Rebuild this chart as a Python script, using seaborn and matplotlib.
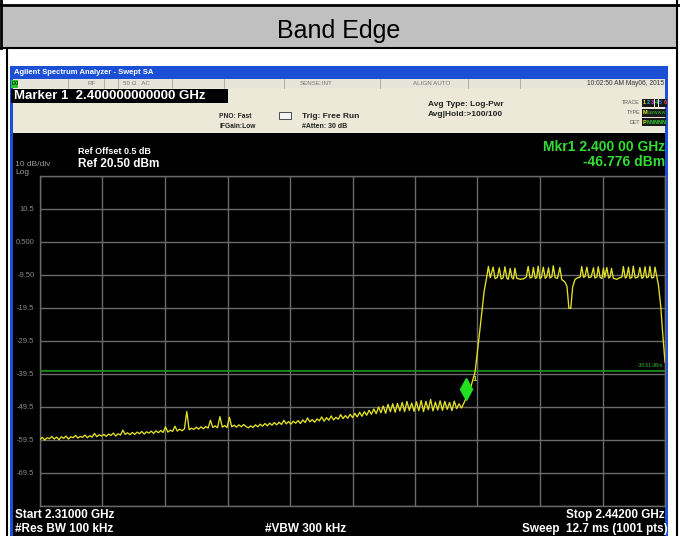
import matplotlib
matplotlib.use("Agg")
import matplotlib.pyplot as plt
import matplotlib.transforms as mtransforms
from matplotlib.patches import Rectangle
from matplotlib.colors import LinearSegmentedColormap
import numpy as np
import pandas as pd
import seaborn as sns

plt.rcParams['font.family'] = ['Liberation Sans', 'DejaVu Sans']

# analyzer settings
start_ghz, stop_ghz = 2.310, 2.442
ref_dbm, db_per_div = 20.5, 10
display_line_dbm = -38.61
mkr_ghz, mkr_dbm = 2.400, -46.776

# noise floor, one reading every 0.5 MHz from 2.310 to 2.400 GHz
noise_dbm = [
    -59.4, -58.8, -59.6, -58.9, -59.2, -58.5, -59.3, -58.7, -59.5, -58.6,
    -59.1, -58.4, -59.3, -58.6, -58.9, -58.2, -59.0, -58.5, -58.8, -58.1,
    -58.9, -58.3, -58.7, -57.6, -58.6, -58.0, -58.4, -57.9, -58.5, -57.8,
    -58.2, -57.5, -58.4, -57.7, -58.1, -56.6, -57.9, -57.4, -58.0, -57.3,
    -57.9, -57.2, -57.7, -57.0, -57.8, -57.1, -57.5, -56.9, -57.6, -56.8,
    -57.4, -56.7, -57.3, -55.6, -57.2, -56.6, -57.0, -55.4, -56.9, -56.3,
    -56.8, -56.2, -51.0, -56.5, -56.0, -56.4, -55.7, -56.3, -55.6, -56.2,
    -55.5, -56.0, -53.6, -55.8, -55.3, -55.9, -52.5, -55.7, -55.2, -55.8,
    -52.7, -55.6, -55.1, -55.7, -55.0, -55.6, -54.9, -55.5, -55.9, -55.3,
    -55.8, -55.0, -55.6, -54.8, -55.4, -54.6, -55.3, -54.5, -55.1, -54.3,
    -55.0, -54.2, -54.9, -53.6, -54.7, -54.0, -54.8, -53.9, -54.5, -53.7,
    -54.6, -53.5, -54.3, -52.9, -54.1, -53.4, -54.2, -53.2, -53.8, -52.6,
    -53.9, -52.8, -53.6, -52.3, -53.5, -52.7, -53.3, -51.9, -53.1, -52.2,
    -53.0, -51.8, -52.8, -51.5, -52.6, -51.2, -52.4, -51.0, -52.1, -50.6,
    -51.8, -50.2, -51.6, -49.6, -51.3, -49.3, -51.5, -48.8, -51.0, -48.6,
    -51.2, -48.5, -50.8, -48.2, -51.0, -47.9, -50.6, -48.4, -50.9, -48.0,
    -50.7, -47.6, -51.0, -47.9, -50.4, -47.3, -50.8, -48.1, -50.5, -47.7,
    -50.6, -47.9, -50.3, -48.2, -50.7, -47.8, -50.1, -48.6, -49.9, -48.5,
    -46.8,
]

# rising edge of the channel
edge_ghz = [2.4010, 2.4019, 2.4030, 2.4038]
edge_dbm = [-43.5, -38.8, -25.0, -14.5]

# channel plateau (with pilot spikes and centre notch) and falling edge
band_ghz = [
    2.4043, 2.4047, 2.4051, 2.4057, 2.4061, 2.4066, 2.4070, 2.4074, 2.4078, 2.4082,
    2.4086, 2.4089, 2.4093, 2.4097, 2.4100, 2.4103, 2.4107, 2.4115, 2.4122, 2.4127,
    2.4131, 2.4135, 2.4139, 2.4142, 2.4146, 2.4149, 2.4152, 2.4156, 2.4159, 2.4163,
    2.4167, 2.4170, 2.4174, 2.4177, 2.4181, 2.4184, 2.4188, 2.4193, 2.4198, 2.4202,
    2.4208, 2.4213, 2.4217, 2.4221, 2.4225, 2.4230, 2.4236, 2.4241, 2.4244, 2.4248,
    2.4251, 2.4255, 2.4259, 2.4264, 2.4269, 2.4272, 2.4276, 2.4279, 2.4283, 2.4287,
    2.4290, 2.4293, 2.4297, 2.4301, 2.4304, 2.4307, 2.4311, 2.4318, 2.4325, 2.4329,
    2.4332, 2.4336, 2.4339, 2.4343, 2.4346, 2.4350, 2.4353, 2.4357, 2.4363, 2.4367,
    2.4371, 2.4374, 2.4378, 2.4381, 2.4385, 2.4388, 2.4392, 2.4396, 2.4399, 2.4403,
    2.4406, 2.4411, 2.4415, 2.4420,
]
band_dbm = [
    -10.6, -7.0, -10.4, -7.2, -10.7, -10.3, -7.4, -10.8, -10.5, -7.1,
    -10.6, -10.9, -7.6, -10.5, -10.8, -7.5, -10.6, -10.9, -10.7, -10.2,
    -7.0, -10.5, -10.3, -7.3, -10.6, -10.4, -6.9, -10.7, -10.3, -7.2,
    -10.6, -10.2, -7.4, -10.5, -10.1, -6.8, -10.4, -10.6, -7.3, -11.0,
    -11.6, -13.0, -19.7, -19.7, -13.2, -10.9, -10.4, -10.2, -7.0, -10.3,
    -10.1, -7.2, -10.4, -10.2, -7.4, -10.5, -10.2, -7.1, -10.4, -10.6,
    -7.5, -10.3, -7.3, -10.5, -10.2, -7.6, -10.6, -10.9, -10.4, -10.2,
    -7.0, -10.5, -10.2, -7.2, -10.6, -10.3, -6.9, -10.5, -10.2, -7.3,
    -10.6, -10.3, -7.1, -10.4, -10.2, -7.0, -10.5, -10.3, -7.2, -10.4,
    -12.5, -19.0, -27.0, -36.0,
]

y_labels = ['', '-69.5', '-59.5', '-49.5', '-39.5', '-29.5', '-19.5', '-9.50', '0.500', '10.5', '']

noise_ghz = np.linspace(start_ghz, mkr_ghz, len(noise_dbm))
trace = pd.DataFrame({
    'ghz': np.concatenate([noise_ghz, edge_ghz, band_ghz]),
    'dbm': np.concatenate([noise_dbm, edge_dbm, band_dbm]),
})

W, H = 680, 536
fig = plt.figure(figsize=(W / 100, H / 100), dpi=100)

# background layer in pixel coordinates: table cell + analyzer window
bg = fig.add_axes([0, 0, 1, 1])
bg.set_xlim(0, W)
bg.set_ylim(H, 0)
bg.axis('off')


def box(x0, y0, x1, y1, color):
    bg.add_patch(Rectangle((x0, y0), x1 - x0, y1 - y0, facecolor=color, edgecolor='none'))


def txt(x, y, s, size, color='black', ha='left', weight='normal', **kw):
    bg.text(x, y, s, fontsize=size, color=color, ha=ha, va='center', fontweight=weight, **kw)


# table header
box(1, 5, 677, 48, '#c0c0c0')
bg.plot([0, 680], [5, 5], color='black', lw=2)
bg.plot([0, 677], [48, 48], color='black', lw=1.5)
bg.plot([1, 1], [0, 48], color='black', lw=2)
bg.plot([6.5, 6.5], [48, 536], color='black', lw=1.5)
bg.plot([676.5, 676.5], [0, 536], color='black', lw=1.5)
txt(339, 31, 'Band Edge', 18, ha='center')

# analyzer window
box(10, 66, 668, 536, '#1a4fd6')
blue = LinearSegmentedColormap.from_list('xp', ['#4a86ee', '#1d5be0', '#0d46cf'])
bg.imshow(np.linspace(0, 1, 16).reshape(-1, 1), cmap=blue, extent=(10, 668, 79, 66), aspect='auto')
txt(14, 72.5, 'Agilent Spectrum Analyzer - Swept SA', 5.5, 'white', weight='bold')

box(13, 79, 665, 88, '#e6e3d8')
box(11, 79.5, 18, 87.5, '#2cc22c')
txt(12, 83.5, 'LXI', 3.5, 'black')
for sx in [68, 104, 118, 172, 224, 284, 380, 468, 520]:
    bg.plot([sx, sx], [79, 88], color='#a8a8a0', lw=0.6)
txt(87, 83.5, 'RF', 4.5, '#777777')
txt(123, 83.5, '50 \u03a9   AC', 4.5, '#777777')
txt(300, 83.5, 'SENSE:INT', 4.5, '#777777')
txt(413, 83.5, 'ALIGN AUTO', 4.5, '#777777')
txt(664, 83.5, '10:02:50 AM May06, 2015', 4.8, '#333333', ha='right')

box(13, 88, 665, 133, '#ece9d8')
box(11, 89, 228, 103, 'black')
txt(14, 96, 'Marker 1  2.400000000000 GHz', 9.5, 'white', weight='bold')
txt(219, 116, 'PNO: Fast', 4.8, '#222222', weight='bold')
txt(219, 126, 'IFGain:Low', 4.8, '#222222', weight='bold')
bg.add_patch(Rectangle((279, 112), 12, 7, facecolor='#f4f4f4', edgecolor='#333333', lw=0.6))
txt(302, 116, 'Trig: Free Run', 6, '#222222', weight='bold')
txt(302, 126, '#Atten: 30 dB', 5, '#222222', weight='bold')
txt(428, 105, 'Avg Type: Log-Pwr', 6, '#222222', weight='bold')
txt(428, 115, 'Avg|Hold:>100/100', 6, '#222222', weight='bold')
txt(640, 103, 'TRACE', 3.8, '#555555', ha='right')
txt(640, 113, 'TYPE', 3.8, '#555555', ha='right')
txt(640, 122, 'DET', 3.8, '#555555', ha='right')
for i, c in enumerate(['#e8e820', '#25c0e0', '#e040e0', '#30d030', '#3060ff', '#ff4040']):
    box(642 + i * 4.2, 99, 645.8 + i * 4.2, 107, '#1a1a1a')
    txt(642.4 + i * 4.2, 103, str(i + 1), 4, c, weight='bold')
box(642, 109, 666, 117, '#1a1a1a')
txt(642.5, 113, 'M', 4, '#e8e820', weight='bold')
txt(647, 113, 'WWWWW', 3, '#30d030')
box(642, 118, 666, 126, '#1a1a1a')
txt(642.5, 122, 'P', 4, '#e8e820', weight='bold')
txt(647, 122, 'NNNNN', 4, '#30d030', weight='bold')

# screen
box(13, 133, 665, 536, 'black')
txt(78, 152, 'Ref Offset 0.5 dB', 6.5, 'white', weight='bold')
txt(78, 164, 'Ref 20.50 dBm', 8.5, 'white', weight='bold')
txt(15, 164, '10 dB/div', 6, '#9a9a9a')
txt(15, 172, 'Log', 6, '#9a9a9a')
txt(665, 147, 'Mkr1 2.400 00 GHz', 10, '#33dd33', ha='right', weight='bold')
txt(665, 162, '-46.776 dBm', 10, '#33dd33', ha='right', weight='bold')
txt(15, 515, 'Start 2.31000 GHz', 8.5, 'white', weight='bold')
txt(15, 529, '#Res BW 100 kHz', 8.5, 'white', weight='bold')
txt(265, 529, '#VBW 300 kHz', 8.5, 'white', weight='bold')
txt(665, 515, 'Stop 2.44200 GHz', 8.5, 'white', ha='right', weight='bold')
txt(668, 529, 'Sweep  12.7 ms (1001 pts)', 8.5, 'white', ha='right', weight='bold')

# graticule + trace
ax = fig.add_axes([40 / W, (H - 505.7) / H, 625 / W, 330 / H])
ax.set_facecolor('none')
ax.set_xlim(start_ghz, stop_ghz)
ax.set_ylim(ref_dbm - 10 * db_per_div, ref_dbm)
ax.set_xticks(np.linspace(start_ghz, stop_ghz, 11))
ax.set_xticklabels([])
ax.set_yticks(ref_dbm - db_per_div * np.arange(10, -1, -1))
ax.set_yticklabels(y_labels)
ax.tick_params(length=0, labelsize=5.5, labelcolor='#8a8a8a', pad=4)
ax.grid(True, color='#6a6a6a', lw=1.0)
for sp in ax.spines.values():
    sp.set_color('#6a6a6a')
    sp.set_linewidth(1.0)

ax.axhline(display_line_dbm, color='#1f9a1f', lw=1.2, zorder=3)
ax.annotate('-38.61 dBm', (stop_ghz, display_line_dbm), xytext=(-2, 2), textcoords='offset points',
            ha='right', va='bottom', fontsize=3.5, color='#2fbf2f')

sns.lineplot(data=trace, x='ghz', y='dbm', ax=ax, color='#e2e224', lw=0.95,
             estimator=None, sort=False, zorder=4)
ax.set_xlabel('')
ax.set_ylabel('')

lift = mtransforms.ScaledTranslation(0, 9 / 100, fig.dpi_scale_trans)
ax.plot([mkr_ghz], [mkr_dbm], marker='d', ms=11, color='#22e022', mec='#22e022',
        transform=ax.transData + lift, zorder=5)
ax.annotate('1', (mkr_ghz, mkr_dbm), xytext=(6, 13), textcoords='offset points',
            fontsize=5.5, color='#e2e224', fontweight='bold', ha='center', va='center')

fig.savefig('out.png', dpi=100)
